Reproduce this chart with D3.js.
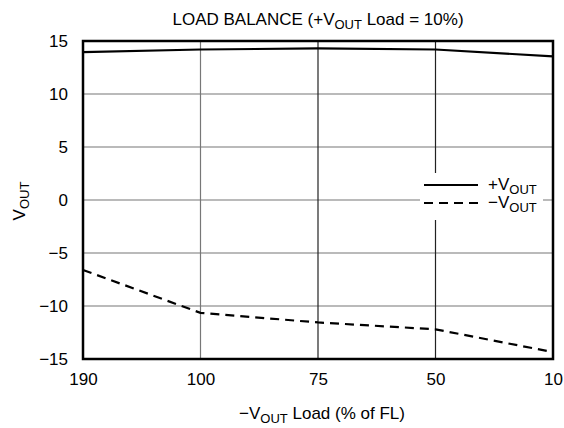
<!DOCTYPE html>
<html><head><meta charset="utf-8">
<script src="https://cdn.jsdelivr.net/npm/d3@7"></script>
<style>body{margin:0;background:#fff}svg{display:block;font-family:"Liberation Sans",Arial,sans-serif}</style>
</head><body><svg id="c" width="564" height="428"></svg>
<script>
const categories = ["190","100","75","50","10"];
const vPos = [13.95, 14.2, 14.3, 14.2, 13.55];
const vNeg = [-6.6, -10.65, -11.55, -12.2, -14.35];
const yTicks = [-15,-10,-5,0,5,10,15];
const yTickLabels = ["\u221215","\u221210","\u22125","0","5","10","15"];

const FS = 17, SUB = 13;
const svg = d3.select("#c");
const m = {l:83, r:553, t:41, b:359};
const x = d3.scalePoint().domain(categories).range([m.l, m.r]);
const y = d3.scaleLinear().domain([-15,15]).range([m.b, m.t]);

// gridlines
const g = svg.append("g");
g.selectAll("line.h").data(yTicks.slice(1,-1)).join("line")
  .attr("x1",m.l).attr("x2",m.r).attr("y1",d=>y(d)).attr("y2",d=>y(d))
  .attr("stroke","#777").attr("stroke-width",1.2);
g.selectAll("line.v").data(categories.slice(1,-1)).join("line")
  .attr("y1",m.t).attr("y2",m.b).attr("x1",d=>x(d)).attr("x2",d=>x(d))
  .attr("stroke",(d,i)=>i===0?"#777":"#222").attr("stroke-width",1.2);

// axes (labels only)
const yAxis = d3.axisLeft(y).tickValues(yTicks).tickSize(0).tickPadding(15)
  .tickFormat((d,i)=>yTickLabels[i]);
const ya = svg.append("g").attr("transform",`translate(${m.l},0)`).call(yAxis);
ya.select(".domain").remove();
ya.selectAll("text").attr("font-size",FS).attr("fill","#000").attr("font-family","Liberation Sans, Arial, sans-serif");
const xAxis = d3.axisBottom(x).tickSize(0).tickPadding(14);
const xa = svg.append("g").attr("transform",`translate(0,${m.b})`).call(xAxis);
xa.select(".domain").remove();
xa.selectAll("text").attr("font-size",FS).attr("fill","#000").attr("font-family","Liberation Sans, Arial, sans-serif");

// legend background
const lg = svg.append("g");
lg.append("rect").attr("x",420).attr("y",173).attr("width",123).attr("height",47).attr("fill","#fff");

// lines
const line = d3.line().x((d,i)=>x(categories[i])).y(d=>y(d));
svg.append("path").attr("d",line(vPos)).attr("fill","none").attr("stroke","#000").attr("stroke-width",2.2);
svg.append("path").attr("d",line(vNeg)).attr("fill","none").attr("stroke","#000").attr("stroke-width",2.2)
  .attr("stroke-dasharray","9,6");

// frame
svg.append("rect").attr("x",m.l).attr("y",m.t).attr("width",m.r-m.l).attr("height",m.b-m.t)
  .attr("fill","none").attr("stroke","#000").attr("stroke-width",2.5);

// legend
lg.append("line").attr("x1",424).attr("x2",478).attr("y1",185).attr("y2",185).attr("stroke","#000").attr("stroke-width",2.2);
lg.append("line").attr("x1",424).attr("x2",478).attr("y1",203).attr("y2",203).attr("stroke","#000").attr("stroke-width",2.2).attr("stroke-dasharray","9,6");
function vout(sel, prefix, xx, yy){
  const t = sel.append("text").attr("x",xx).attr("y",yy).attr("font-size",FS).attr("fill","#000");
  t.append("tspan").text(prefix+"V");
  t.append("tspan").attr("font-size",SUB).attr("dy",4).text("OUT");
  return t;
}
vout(lg,"+",488,190);
vout(lg,"\u2212",488,208);

// title
const title = svg.append("text").attr("x",318).attr("y",25).attr("text-anchor","middle").attr("font-size",FS).attr("fill","#000");
title.append("tspan").text("LOAD BALANCE (+V");
title.append("tspan").attr("font-size",SUB).attr("dy",4).text("OUT");
title.append("tspan").attr("dy",-4).text(" Load = 10%)");

// x label
const xl = svg.append("text").attr("x",322).attr("y",419).attr("text-anchor","middle").attr("font-size",FS).attr("fill","#000");
xl.append("tspan").text("\u2212V");
xl.append("tspan").attr("font-size",SUB).attr("dy",4).text("OUT");
xl.append("tspan").attr("dy",-4).text(" Load (% of FL)");

// y label
const yl = svg.append("text").attr("transform","translate(25,201) rotate(-90)").attr("text-anchor","middle").attr("font-size",FS).attr("fill","#000");
yl.append("tspan").text("V");
yl.append("tspan").attr("font-size",SUB).attr("dy",4).text("OUT");
</script></body></html>
